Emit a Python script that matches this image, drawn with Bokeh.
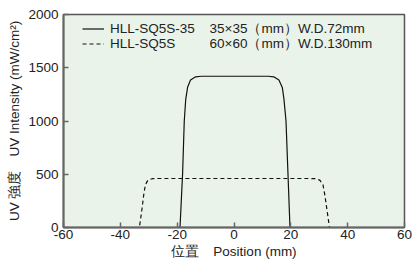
from bokeh.plotting import figure
from bokeh.models import Legend, LegendItem, Label, Range1d, FixedTicker
from bokeh.embed import file_html
from bokeh.resources import INLINE

# Data
solid_name = "HLL-SQ5S-35"
solid_desc = "35×35（mm）W.D.72mm"
solid_x = [-19.0, -18.1, -17.5, -17.0, -16.3, -15.3, -13.5, -11.5, 12.0, 14.0, 15.8, 17.0, 17.6, 18.3, 19.0, 19.7]
solid_y = [0, 500, 1000, 1200, 1320, 1385, 1415, 1420, 1420, 1415, 1385, 1315, 1200, 1000, 500, 0]

dash_name = "HLL-SQ5S"
dash_desc = "60×60（mm）W.D.130mm"
dash_x = [-35.0, -33.3, -32.5, -31.8, -31.2, -30.3, -28.8, -27.0, 27.0, 28.7, 30.2, 31.3, 32.0, 32.8, 33.6, 35.0]
dash_y = [0, 0, 150, 300, 400, 445, 458, 460, 460, 458, 445, 403, 300, 150, 0, 0]

x_ticks = [-60, -40, -20, 0, 20, 40, 60]
y_ticks = [0, 500, 1000, 1500, 2000]
x_label = "位置　Position (mm)"
y_label = "UV 強度　UV Intensity (mW/cm²)"

FONT = "Liberation Sans"
FS = "13.5px"
TXT = "#222222"

p = figure(frame_width=341, frame_height=213, output_backend="svg", toolbar_location=None,
           x_range=Range1d(-60, 60), y_range=Range1d(0, 2000),
           min_border_left=63, min_border_right=10, min_border_top=14, min_border_bottom=35)

p.background_fill_color = "#EAF3EA"
p.border_fill_color = "white"
p.outline_line_color = "#555555"
p.outline_line_width = 1.5
p.grid.visible = False

for ax in (p.xaxis[0], p.yaxis[0]):
    ax.axis_line_color = "#666666"
    ax.axis_line_width = 2
    ax.major_tick_in = 5
    ax.major_tick_out = 0
    ax.major_tick_line_color = "#666666"
    ax.major_tick_line_width = 1.5
    ax.minor_tick_line_color = None
    ax.major_label_text_font = FONT
    ax.major_label_text_font_size = FS
    ax.major_label_text_color = TXT
    ax.axis_label_text_font = FONT
    ax.axis_label_text_font_size = FS
    ax.axis_label_text_font_style = "normal"
    ax.axis_label_text_color = TXT
    ax.major_label_standoff = 2

p.xaxis[0].ticker = FixedTicker(ticks=x_ticks)
p.xaxis[0].major_label_overrides = {t: str(t) for t in x_ticks}
p.yaxis[0].ticker = FixedTicker(ticks=y_ticks)
p.yaxis[0].major_label_overrides = {t: str(t) for t in y_ticks}
p.yaxis[0].major_label_standoff = 5
p.xaxis[0].axis_label = x_label
p.yaxis[0].axis_label = y_label
p.xaxis[0].axis_label_standoff = 2
p.yaxis[0].axis_label_standoff = 3

r1 = p.line(solid_x, solid_y, line_color="#111111", line_width=1.2)
r2 = p.line(dash_x, dash_y, line_color="#111111", line_width=1.2, line_dash="4 3")

legend = Legend(items=[LegendItem(label=solid_name, renderers=[r1]),
                       LegendItem(label=dash_name, renderers=[r2])],
                location=(19, 176))
legend.background_fill_alpha = 0
legend.border_line_color = None
legend.padding = 0
legend.margin = 0
legend.spacing = 0
legend.glyph_width = 22
legend.glyph_height = 15
legend.label_height = 15
legend.label_standoff = 6
legend.label_text_font = FONT
legend.label_text_font_size = FS
legend.label_text_color = TXT
p.add_layout(legend)

for desc, yv in ((solid_desc, 1868), (dash_desc, 1728)):
    p.add_layout(Label(x=-8.6, y=yv, text=desc, text_font=FONT, text_font_size=FS,
                       text_color=TXT, text_baseline="middle"))

open("out.html", "w").write(file_html(p, INLINE))
